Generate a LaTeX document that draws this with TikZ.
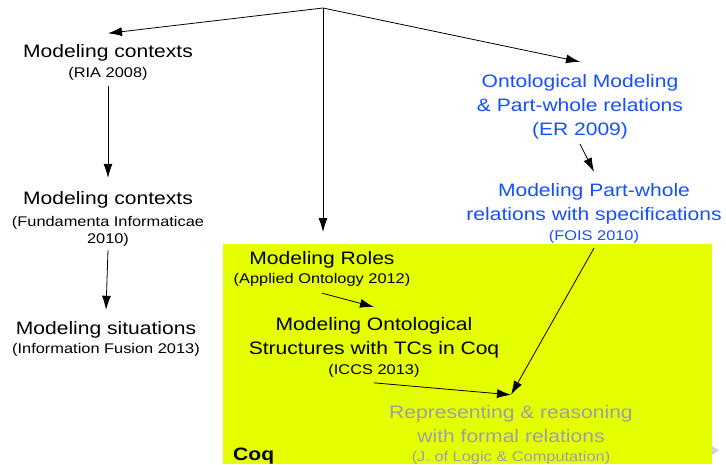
\documentclass[tikz,border=0pt]{standalone}
\usepackage{fontspec}
\setmainfont[FakeStretch=1.17]{Liberation Sans}
\usetikzlibrary{arrows.meta}
\definecolor{coqyellow}{RGB}{229,255,0}
\definecolor{ontoblue}{RGB}{20,80,255}
\definecolor{repgray}{RGB}{158,158,170}
\definecolor{navgray}{RGB}{205,210,232}
\newcommand{\smtxt}[1]{{\fontsize{14}{17}\selectfont #1}}
\tikzset{
  blk/.style={align=center, inner sep=0pt, anchor=north, font=\fontsize{18}{24}\selectfont},
  arr/.style={-{Latex[length=14pt,width=9pt]}, line width=0.8pt},
}
\begin{document}
\begin{tikzpicture}[x=1pt,y=-1pt]
\useasboundingbox (0,0) rectangle (726,464);
\node[fill=coqyellow, minimum width=489pt, minimum height=220pt, anchor=north west, inner sep=0pt, outer sep=0pt] (coqbox) at (223,244) {};
\node[anchor=base west, inner sep=0pt, font=\fontsize{18}{24}\selectfont\bfseries] (coq) at (233,460) {Coq};
\coordinate (top) at (323,8);

\node[blk] (mc1) at (108,44.3) {Modeling contexts\\[-4.5pt]\smtxt{(RIA 2008)}};
\node[blk] (mc2) at (108,190.8) {Modeling contexts\\[-2pt]\smtxt{(Fundamenta Informaticae}\\[-7pt]\smtxt{2010)}};
\node[blk] (ms) at (106,320.8) {Modeling situations\\[-5pt]\smtxt{(Information Fusion 2013)}};

\node[blk, text=ontoblue] (er) at (580,73.8) {Ontological Modeling\\\& Part-whole relations\\(ER 2009)};
\node[blk, text=ontoblue] (fois) at (594,182.8) {Modeling Part-whole\\relations with specifications\\[-4pt]\smtxt{(FOIS 2010)}};

\node[blk] (roles) at (322,250.8) {Modeling Roles\\[-5pt]\smtxt{(Applied Ontology 2012)}};
\node[blk] (onto) at (374,317.5) {Modeling Ontological\\Structures with TCs in Coq\\[-4pt]\smtxt{(ICCS 2013)}};
\node[blk, text=repgray] (rep) at (511,404.8) {Representing \& reasoning\\with formal relations\\[-5pt]\smtxt{(J. of Logic \& Computation)}};
\coordinate (meet) at ([yshift=10pt]rep.north);

\draw[arr] (top) -- ([yshift=11pt]mc1.north);
\draw[arr, shorten >=12pt] (top) -- (top |- coqbox.north);
\draw[arr] (top) -- ([yshift=12pt]er.north);
\draw[arr] ([yshift=-6pt]mc1.south) -- ([yshift=13pt]mc2.north);
\draw[arr] ([yshift=-4pt]mc2.south) -- ([yshift=11pt]ms.north);
\draw[arr] ([yshift=-5pt]er.south) -- ([yshift=11pt]fois.north);
\draw[arr] ([yshift=-7pt]roles.south) -- ([yshift=10.5pt]onto.north);
\draw[arr] ([yshift=-5pt]onto.south) -- (meet);
\draw[arr] ([yshift=-5pt]fois.south) -- (meet);

\fill[navgray] (712,446) -- (719,450.5) -- (712,455) -- cycle;
\end{tikzpicture}
\end{document}
